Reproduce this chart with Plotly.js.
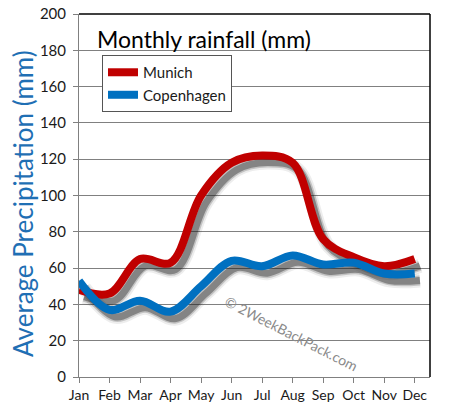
<!DOCTYPE html>
<html>
<head>
<meta charset="utf-8">
<script src="https://cdn.plot.ly/plotly-3.0.1.min.js"></script>
<style>html,body{margin:0;padding:0;background:#fff;}#chart{width:451px;height:418px;}</style>
</head>
<body>
<div id="chart"></div>
<script>
const months = ["Jan","Feb","Mar","Apr","May","Jun","Jul","Aug","Sep","Oct","Nov","Dec"];
const munich = [48, 46, 65, 63, 100, 118, 122, 118, 76, 66, 61, 65];
const copenhagen = [53, 37, 42, 36, 50, 64, 61, 67, 62, 63, 57, 57];
const yTicks = [0, 20, 40, 60, 80, 100, 120, 140, 160, 180, 200];
const seriesNames = ["Munich", "Copenhagen"];
const seriesColors = ["#c00000", "#0070c0"];

const FONT = "Lato, 'Open Sans', sans-serif";
const xIdx = months.map((m, i) => i);

function shadow(y, w, op) {
  return {x: xIdx, y: y, xaxis: "x2", yaxis: "y2", mode: "lines",
    line: {shape: "spline", smoothing: 1, width: w, color: "rgba(30,30,30," + op + ")"},
    showlegend: false, hoverinfo: "skip"};
}

const traces = [
  {x: [null], y: [null], mode: "lines", showlegend: false, hoverinfo: "skip"},
  shadow(munich, 14, 0.08), shadow(munich, 10, 0.2), shadow(munich, 7, 0.38),
  shadow(copenhagen, 14, 0.08), shadow(copenhagen, 10, 0.2), shadow(copenhagen, 7, 0.38),
  {x: xIdx, y: munich, name: seriesNames[0], mode: "lines", xaxis: "x3", yaxis: "y3",
   line: {shape: "spline", smoothing: 1, width: 8, color: seriesColors[0]}},
  {x: xIdx, y: copenhagen, name: seriesNames[1], mode: "lines", xaxis: "x3", yaxis: "y3",
   line: {shape: "spline", smoothing: 1, width: 8, color: seriesColors[1]}}
];

const layout = {
  width: 451, height: 418,
  margin: {l: 79, r: 21, t: 14, b: 41, pad: 0},
  paper_bgcolor: "#fff", plot_bgcolor: "#fff",
  font: {family: FONT, color: "#1a1a1a"},
  showlegend: true,
  xaxis: {range: [0, 11.5], tickmode: "array", tickvals: xIdx, ticktext: months,
    showgrid: false, zeroline: false, showline: true, linecolor: "#808080", linewidth: 1,
    ticks: "outside", ticklen: 5, tickcolor: "#808080", tickfont: {size: 14, color: "#1a1a1a"},
    fixedrange: true},
  yaxis: {range: [0, 200], tickmode: "array", tickvals: yTicks,
    showgrid: true, gridcolor: "#808080", gridwidth: 1, zeroline: false,
    showline: true, linecolor: "#808080", ticks: "outside", ticklen: 5, tickcolor: "#808080",
    tickfont: {size: 15, color: "#1a1a1a"}, ticklabelstandoff: 4, fixedrange: true},
  xaxis2: {range: [-0.17, 11.33], overlaying: "x", anchor: "y2", visible: false, fixedrange: true},
  yaxis2: {range: [3.8, 203.8], overlaying: "y", anchor: "x2", visible: false, fixedrange: true},
  xaxis3: {range: [0, 11.5], overlaying: "x", anchor: "y3", visible: false, fixedrange: true},
  yaxis3: {range: [0, 200], overlaying: "y", anchor: "x3", visible: false, fixedrange: true},
  legend: {x: 0.0655, y: 0.887, xanchor: "left", yanchor: "top",
    bgcolor: "#fff", bordercolor: "#555", borderwidth: 1,
    font: {size: 15, color: "#1a1a1a", family: FONT}},
  shapes: [
    {type: "line", xref: "paper", yref: "paper", x0: 0, x1: 1, y0: 1, y1: 1, line: {color: "#000", width: 1.5}},
    {type: "line", xref: "paper", yref: "paper", x0: 1, x1: 1, y0: 0, y1: 1, line: {color: "#000", width: 1.5}}
  ],
  annotations: [
    {text: "Monthly rainfall (mm)", xref: "paper", yref: "paper", x: 0.045, y: 0.975,
     xanchor: "left", yanchor: "top", showarrow: false, font: {size: 23, color: "#000", family: FONT}},
    {text: "Average Precipitation (mm)", xref: "paper", yref: "paper", x: -0.16, y: 0.479,
     xanchor: "center", yanchor: "middle", textangle: -90, showarrow: false,
     font: {size: 26, color: "#1f6fb4", family: FONT}},
    {text: "© 2WeekBackPack.com", xref: "paper", yref: "paper", x: 0.605, y: 0.12,
     xanchor: "center", yanchor: "middle", textangle: 27, showarrow: false,
     font: {size: 14, color: "#8a8a8a", family: FONT}}
  ]
};

Plotly.newPlot("chart", traces, layout, {displayModeBar: false, staticPlot: true});
</script>
</body>
</html>
